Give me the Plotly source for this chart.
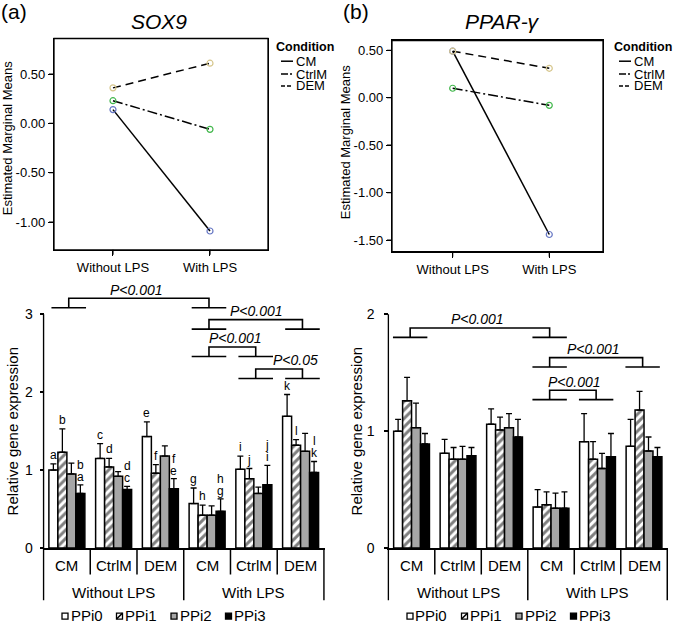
import plotly.graph_objects as go

W, H = 674, 630
FONT = "Liberation Sans, Arial, sans-serif"

# ---------------- data ----------------
lps_levels = ["Without LPS", "With LPS"]
condition_names = ["CM", "CtrlM", "DEM"]

sox9_emm_cm = [0.14, -1.09]
sox9_emm_ctrlm = [0.23, -0.06]
sox9_emm_dem = [0.36, 0.61]

ppar_emm_cm = [0.49, -1.44]
ppar_emm_ctrlm = [0.10, -0.08]
ppar_emm_dem = [0.49, 0.31]

emm_sox9_ticks = [0.5, 0.0, -0.5, -1.0]
emm_sox9_ticktext = ["0.50", "0.00", "-0.50", "-1.00"]
emm_ppar_ticks = [0.5, 0.0, -0.5, -1.0, -1.5]
emm_ppar_ticktext = ["0.50", "0.00", "-0.50", "-1.00", "-1.50"]

bar_groups = ["CM", "CtrlM", "DEM", "CM", "CtrlM", "DEM"]
bar_lps = ["Without LPS", "Without LPS", "Without LPS", "With LPS", "With LPS", "With LPS"]
lps_groups = ["Without LPS", "With LPS"]
ppi_names = ["PPi0", "PPi1", "PPi2", "PPi3"]

sox9_ppi0 = [1.00, 1.15, 1.43, 0.57, 1.01, 1.69]
sox9_ppi0_err = [0.08, 0.19, 0.19, 0.20, 0.17, 0.28]
sox9_ppi1 = [1.23, 1.04, 0.96, 0.42, 0.89, 1.32]
sox9_ppi1_err = [0.30, 0.11, 0.11, 0.13, 0.13, 0.07]
sox9_ppi2 = [0.95, 0.92, 1.18, 0.42, 0.70, 1.24]
sox9_ppi2_err = [0.14, 0.06, 0.13, 0.12, 0.08, 0.23]
sox9_ppi3 = [0.70, 0.75, 0.76, 0.47, 0.81, 0.97]
sox9_ppi3_err = [0.11, 0.04, 0.13, 0.16, 0.25, 0.14]

ppar_ppi0 = [1.00, 0.81, 1.06, 0.35, 0.91, 0.87]
ppar_ppi0_err = [0.10, 0.12, 0.13, 0.15, 0.24, 0.23]
ppar_ppi1 = [1.26, 0.76, 1.01, 0.37, 0.76, 1.18]
ppar_ppi1_err = [0.20, 0.10, 0.11, 0.11, 0.15, 0.16]
ppar_ppi2 = [1.03, 0.76, 1.03, 0.34, 0.68, 0.83]
ppar_ppi2_err = [0.21, 0.11, 0.12, 0.13, 0.13, 0.12]
ppar_ppi3 = [0.89, 0.79, 0.95, 0.34, 0.78, 0.78]
ppar_ppi3_err = [0.09, 0.07, 0.15, 0.14, 0.20, 0.08]

sox9_letters_first = ["a", "c", "e", "g", "i", "k"]   # PPi0 and PPi3
sox9_letters_second = ["b", "d", "f", "h", "j", "l"]  # PPi1 and PPi2

sox9_bar_ticks = [0, 1, 2, 3]
ppar_bar_ticks = [0, 1, 2]

sox9_comp_left = [0, 3, 3, 4]
sox9_comp_right = [3, 5, 4, 5]
sox9_comp_label = ["P<0.001", "P<0.001", "P<0.001", "P<0.05"]
ppar_comp_left = [0, 3, 3]
ppar_comp_right = [3, 5, 4]
ppar_comp_label = ["P<0.001", "P<0.001", "P<0.001"]

# ---------------- helpers ----------------
def px(x):
    return x / W

def py(y):
    return 1 - y / H

fig = go.Figure()
shapes = []
annos = []

def txt(x, y, text, size, xref="paper", yref="paper", xanchor="center",
        yanchor="middle", **kw):
    d = dict(x=x, y=y, text=text, xref=xref, yref=yref, xanchor=xanchor,
             yanchor=yanchor, showarrow=False,
             font=dict(family=FONT, size=size, color="black"))
    d.update(kw)
    annos.append(d)

# ---------------- line (EMM) panels ----------------
cond_style = {
    "CM": dict(dash="solid", mcolor="#6677c4", sample="solid"),
    "CtrlM": dict(dash="10px,3px,2px,3px", mcolor="#44b84e", sample="7px,2px,2px,2px"),
    "DEM": dict(dash="8px,5px", mcolor="#d6c68c", sample="4px,2px"),
}

line_panels = [
    ("x", "y", [sox9_emm_cm, sox9_emm_ctrlm, sox9_emm_dem], emm_sox9_ticks),
    ("x2", "y2", [ppar_emm_cm, ppar_emm_ctrlm, ppar_emm_dem], emm_ppar_ticks),
]
for xa, ya, series_vals, yticks in line_panels:
    for cond, vals in zip(condition_names, series_vals):
        st = cond_style[cond]
        fig.add_trace(go.Scatter(
            x=lps_levels, y=vals, xaxis=xa, yaxis=ya, mode="lines+markers",
            name=cond, showlegend=False,
            line=dict(color="black", width=1.5, dash=st["dash"]),
            marker=dict(symbol="circle-open", size=6, color=st["mcolor"],
                        line=dict(width=1.2, color=st["mcolor"])),
        ))
    # frame drawn explicitly
    shapes.append(dict(type="rect", xref=xa + " domain", yref=ya + " domain",
                       x0=0, x1=1, y0=0, y1=1, line=dict(color="black", width=1.3)))
    # tick marks
    for v in yticks:
        shapes.append(dict(type="line", xref=xa + " domain", xsizemode="pixel",
                           xanchor=0, x0=-5, x1=0, yref=ya, y0=v, y1=v,
                           line=dict(color="black", width=1.2)))
    for i in range(len(lps_levels)):
        shapes.append(dict(type="line", xref=xa, x0=i, x1=i,
                           yref=ya + " domain", ysizemode="pixel", yanchor=0,
                           y0=-5, y1=0, line=dict(color="black", width=1.2)))

# condition legends (drawn)
for x_title, x_l0, x_l1, x_text in [(274, 281, 293, 294), (612, 619, 631, 632)]:
    txt(px(x_title), py(48), "<b>Condition</b>", 12.5, xanchor="left")
    for cond, yy in zip(condition_names, [62, 75, 87]):
        shapes.append(dict(type="line", xref="paper", yref="paper",
                           x0=px(x_l0), x1=px(x_l1), y0=py(yy), y1=py(yy),
                           line=dict(color="black", width=1.5,
                                     dash=cond_style[cond]["sample"])))
        txt(px(x_text), py(yy), cond, 13, xanchor="left")

# titles
txt(px(14), py(12), "(a)", 21)
txt(px(356), py(12), "(b)", 21)
txt(px(159), py(22), "<i>SOX9</i>", 21)
txt(px(502), py(22), "<i>PPAR-γ</i>", 21)
txt(px(7), py(140), "Estimated Marginal Means", 13, textangle=-90)
txt(px(345), py(144), "Estimated Marginal Means", 13, textangle=-90)

# ---------------- bar panels ----------------
BARGAP = 0.23
bw = (1 - BARGAP) / 4

def off(si):
    return (si - 1.5) * bw

bar_fill = ["white", "white", "#a6a6a6", "black"]
positions = list(range(len(bar_groups)))

bar_panels = [
    dict(xa="x3", ya="y3",
         vals=[sox9_ppi0, sox9_ppi1, sox9_ppi2, sox9_ppi3],
         errs=[sox9_ppi0_err, sox9_ppi1_err, sox9_ppi2_err, sox9_ppi3_err],
         ymax=3, feet=[3.084, 2.81, 2.459, 2.176], rise=0.122, shift=0.04,
         tshift=[-2, 1, 3, 16],
         comps=(sox9_comp_left, sox9_comp_right, sox9_comp_label),
         ytitle_x=12, leg_x=62),
    dict(xa="x4", ya="y4",
         vals=[ppar_ppi0, ppar_ppi1, ppar_ppi2, ppar_ppi3],
         errs=[ppar_ppi0_err, ppar_ppi1_err, ppar_ppi2_err, ppar_ppi3_err],
         ymax=2, feet=[1.803, 1.549, 1.270], rise=0.08, shift=-0.03,
         tshift=[-2, -3, 2],
         comps=(ppar_comp_left, ppar_comp_right, ppar_comp_label),
         ytitle_x=356, leg_x=407),
]

for p in bar_panels:
    xa, ya = p["xa"], p["ya"]
    for si, (name, vals, errs) in enumerate(zip(ppi_names, p["vals"], p["errs"])):
        marker = dict(color=bar_fill[si], line=dict(color="black", width=1.5))
        if si == 1:
            marker["pattern"] = dict(shape="/", fgcolor="black", bgcolor="white",
                                     size=6, solidity=0.5)
        fig.add_trace(go.Bar(
            x=positions, y=vals, name=name, offsetgroup=str(si),
            xaxis=xa, yaxis=ya, showlegend=False, marker=marker,
            error_y=dict(type="data", array=errs, arrayminus=[0] * len(errs),
                         symmetric=False, color="black", thickness=1.3, width=3),
        ))
    # y-axis line 0..ymax
    shapes.append(dict(type="line", xref=xa, yref=ya, x0=-0.5, x1=-0.5,
                       y0=0, y1=p["ymax"], line=dict(color="black", width=1.5)))
    # separators below axis
    n = len(bar_groups)
    for i in range(n + 1):
        outer = (i == 0 or i == n or bar_lps[i - 1] != bar_lps[i])
        shapes.append(dict(type="line", xref=xa, yref="paper",
                           x0=i - 0.5, x1=i - 0.5, y0=py(555),
                           y1=py(608) if outer else py(582),
                           line=dict(color="black", width=1.5)))
    for i, g in enumerate(bar_groups):
        txt(i, py(573), g, 15, xref=xa)
    for lv in lps_groups:
        idx = [i for i, l in enumerate(bar_lps) if l == lv]
        txt(sum(idx) / len(idx), py(600), lv, 15, xref=xa)
    # brackets
    lefts, rights, labels = p["comps"]
    for l, r, lab, fy, ts in zip(lefts, rights, labels, p["feet"], p["tshift"]):
        xl, xr = l + p["shift"], r + p["shift"]
        h = 0.37
        top = fy + p["rise"]
        path = (f"M {xl - h},{fy} L {xl + h},{fy} M {xl},{fy} L {xl},{top} "
                f"L {xr},{top} L {xr},{fy} M {xr - h},{fy} L {xr + h},{fy}")
        shapes.append(dict(type="path", xref=xa, yref=ya, path=path,
                           line=dict(color="black", width=1.6)))
        txt((xl + xr) / 2, top, "<i>" + lab.replace("<", "&lt;") + "</i>", 14,
            xref=xa, yref=ya, yshift=8.5, xshift=ts)
    # y title
    txt(px(p["ytitle_x"]), py(437), "Relative gene expression", 15, textangle=-90)
    # legend
    pitch, s, yc = 54.5, 6, 623
    for si, name in enumerate(ppi_names):
        x0 = p["leg_x"] + si * pitch
        shapes.append(dict(type="rect", xref="paper", yref="paper",
                           x0=px(x0), x1=px(x0 + s), y0=py(yc + 1 + s / 2), y1=py(yc + 1 - s / 2),
                           fillcolor=bar_fill[si], line=dict(color="black", width=1.3)))
        if si == 1:
            shapes.append(dict(type="line", xref="paper", yref="paper",
                               x0=px(x0), x1=px(x0 + s), y0=py(yc + 1 + s / 2),
                               y1=py(yc + 1 - s / 2),
                               line=dict(color="black", width=1.5)))
        txt(px(x0 + s + 0.5), py(yc), name, 15, xanchor="left")

# letters (SOX9)
sp = bar_panels[0]
for g in range(len(bar_groups)):
    for si in (0, 1):
        letters = sox9_letters_first if si == 0 else sox9_letters_second
        top = sp["vals"][si][g] + sp["errs"][si][g]
        txt(g + off(si), top, letters[g], 12, xref="x3", yref="y3", yshift=9)
    top3 = sp["vals"][3][g] + sp["errs"][3][g]
    txt(g + off(3), top3, sox9_letters_first[g], 12, xref="x3", yref="y3", yshift=8)
    txt(g + off(3), top3, sox9_letters_second[g], 12, xref="x3", yref="y3", yshift=20)

# ---------------- layout ----------------
line_axis = dict(showline=True, mirror=True, linecolor="black", linewidth=1.3,
                 ticks="outside", ticklen=5, tickwidth=1.2, tickcolor="black",
                 showgrid=False, zeroline=False,
                 tickfont=dict(family=FONT, size=13, color="black"))
bar_x = dict(showline=True, linecolor="black", linewidth=1.5, ticks="",
             showticklabels=False, showgrid=False, zeroline=False,
             range=[-0.52, 5.52])
bar_y = dict(showline=False, ticks="outside", ticklen=4, tickwidth=1.5,
             tickcolor="black", showgrid=False, zeroline=False, anchor="free",
             tickfont=dict(family=FONT, size=14, color="black"))

fig.update_layout(
    width=W, height=H, margin=dict(l=0, r=0, t=0, b=0),
    paper_bgcolor="white", plot_bgcolor="white", showlegend=False,
    barmode="group", bargap=BARGAP, bargroupgap=0,
    font=dict(family=FONT, color="black"),
    xaxis=dict(line_axis, domain=[px(54), px(268)], range=[-0.608, 1.598],
               type="category", anchor="y"),
    yaxis=dict(line_axis, domain=[py(253), py(39)], range=[-1.28, 0.86],
               tickvals=emm_sox9_ticks, ticktext=emm_sox9_ticktext, anchor="x"),
    xaxis2=dict(line_axis, domain=[px(392), px(603)], range=[-0.628, 1.556],
                type="category", anchor="y2"),
    yaxis2=dict(line_axis, domain=[py(255), py(41)], range=[-1.622, 0.603],
                tickvals=emm_ppar_ticks, ticktext=emm_ppar_ticktext, anchor="x2"),
    xaxis3=dict(bar_x, domain=[px(42.57), px(324.9)], anchor="y3"),
    yaxis3=dict(bar_y, domain=[py(555), py(285.2)], range=[0, 3.42],
                tickvals=sox9_bar_ticks, position=px(43.5), ticklabelstandoff=4),
    xaxis4=dict(bar_x, domain=[px(387.37), px(668.2)], anchor="y4"),
    yaxis4=dict(bar_y, domain=[py(555), py(294.7)], range=[0, 2.2],
                tickvals=ppar_bar_ticks, position=px(388.3), ticklabelstandoff=7),
    shapes=shapes, annotations=annos,
)

fig.write_html(
    "out.html",
    config={"displayModeBar": False},
    post_script="document.body.style.margin='0';document.body.style.padding='0';"
                "document.documentElement.style.overflow='hidden';",
)
